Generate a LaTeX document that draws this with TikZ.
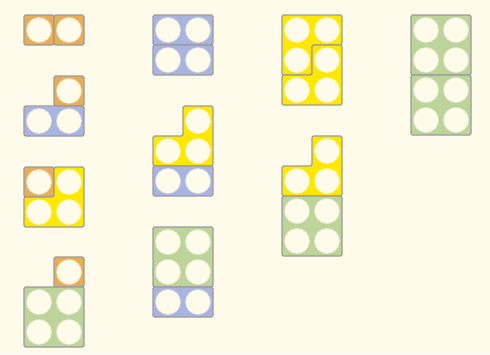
\documentclass[tikz,border=0pt]{standalone}
\definecolor{bg}{HTML}{FEFBEA}
\definecolor{org}{HTML}{E8AD57}
\definecolor{yel}{HTML}{FFE800}
\definecolor{blu}{HTML}{AAB4E0}
\definecolor{grn}{HTML}{BDD59A}
\definecolor{edge}{HTML}{9C9C9C}
\newcommand\pdot[3]{\fill[#3!40!bg] (#1,#2) circle (12.9); \fill[bg] (#1,#2) circle (12.1);}
\tikzset{piece/.style={draw=edge, line width=1.3pt, rounded corners=1.5pt, line join=round}}
\begin{document}
\begin{tikzpicture}[x=1pt,y=-1pt]
\fill[bg] (0,0) rectangle (490,354);
\useasboundingbox (0,0) rectangle (490,354);
% A
\draw[piece, fill=org] (24,15) rectangle (54,45); \pdot{39}{30}{org}
\draw[piece, fill=org] (54,15) rectangle (84,45); \pdot{69}{30}{org}
% B
\draw[piece, fill=org] (54,76) rectangle (84,106); \pdot{69}{91}{org}
\draw[piece, fill=blu] (24,106) rectangle (84,136); \pdot{39}{121}{blu}\pdot{69}{121}{blu}
% C
\draw[piece, fill=org] (24,167) rectangle (54,197); \pdot{39}{182}{org}
\draw[piece, fill=yel] (54,167) -- (84,167) -- (84,227) -- (24,227) -- (24,197) -- (54,197) -- cycle;
\pdot{69}{182}{yel}\pdot{39}{212}{yel}\pdot{69}{212}{yel}
% D
\draw[piece, fill=org] (54,257) rectangle (84,287); \pdot{69}{272}{org}
\draw[piece, fill=grn] (24,287) rectangle (84,347);
\pdot{39}{302}{grn}\pdot{69}{302}{grn}\pdot{39}{332}{grn}\pdot{69}{332}{grn}
% E
\draw[piece, fill=blu] (153,15) rectangle (213,45); \pdot{168}{30}{blu}\pdot{198}{30}{blu}
\draw[piece, fill=blu] (153,45) rectangle (213,75); \pdot{168}{60}{blu}\pdot{198}{60}{blu}
% F
\draw[piece, fill=yel] (183,106) -- (213,106) -- (213,166) -- (153,166) -- (153,136) -- (183,136) -- cycle;
\pdot{198}{121}{yel}\pdot{168}{151}{yel}\pdot{198}{151}{yel}
\draw[piece, fill=blu] (153,166) rectangle (213,196); \pdot{168}{181}{blu}\pdot{198}{181}{blu}
% G
\draw[piece, fill=grn] (153,227) rectangle (213,287);
\pdot{168}{242}{grn}\pdot{198}{242}{grn}\pdot{168}{272}{grn}\pdot{198}{272}{grn}
\draw[piece, fill=blu] (153,287) rectangle (213,317); \pdot{168}{302}{blu}\pdot{198}{302}{blu}
% H
\draw[piece, fill=yel] (282,15) -- (342,15) -- (342,45) -- (312,45) -- (312,75) -- (282,75) -- cycle;
\pdot{297}{30}{yel}\pdot{327}{30}{yel}\pdot{297}{60}{yel}
\draw[piece, fill=yel] (312,45) -- (342,45) -- (342,105) -- (282,105) -- (282,75) -- (312,75) -- cycle;
\pdot{327}{60}{yel}\pdot{297}{90}{yel}\pdot{327}{90}{yel}
% I
\draw[piece, fill=yel] (312,136) -- (342,136) -- (342,196) -- (282,196) -- (282,166) -- (312,166) -- cycle;
\pdot{327}{151}{yel}\pdot{297}{181}{yel}\pdot{327}{181}{yel}
\draw[piece, fill=grn] (282,196) rectangle (342,256);
\pdot{297}{211}{grn}\pdot{327}{211}{grn}\pdot{297}{241}{grn}\pdot{327}{241}{grn}
% J
\draw[piece, fill=grn] (411,15) rectangle (471,75);
\pdot{426}{30}{grn}\pdot{456}{30}{grn}\pdot{426}{60}{grn}\pdot{456}{60}{grn}
\draw[piece, fill=grn] (411,75) rectangle (471,135);
\pdot{426}{90}{grn}\pdot{456}{90}{grn}\pdot{426}{120}{grn}\pdot{456}{120}{grn}
\end{tikzpicture}
\end{document}
